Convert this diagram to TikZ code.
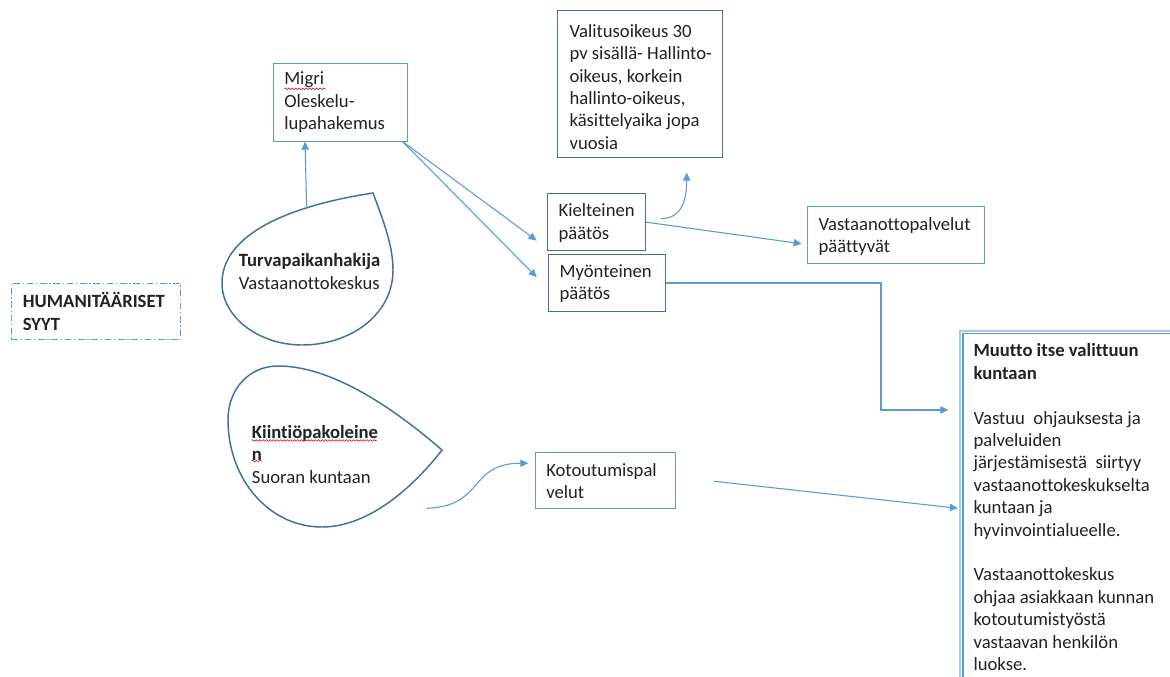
\documentclass[tikz,border=0pt]{standalone}
\usepackage{fontspec}
\setmainfont[Ligatures=NoCommon]{Carlito}
\usetikzlibrary{arrows.meta,calc,decorations.pathmorphing}
\definecolor{lb}{HTML}{5B9BD5}
\definecolor{db}{HTML}{41719C}
\definecolor{vb}{HTML}{A9C8EA}
\definecolor{tc}{HTML}{222222}
\begin{document}
\begin{tikzpicture}[x=0.75pt,y=-0.75pt,
  box/.style={draw=#1, line width=0.75pt, anchor=north west, inner sep=0pt},
  txt/.style={align=left, inner sep=0pt, text=tc, font=\fontsize{14}{16.8}\selectfont},
  arr/.style={draw=lb, line width=0.8pt, -{Triangle[length=6pt,width=5.5pt]}},
  drop/.style={draw=db, line width=1.1pt},
  squig/.style={draw=red!80!black, line width=0.4pt, decorate, decoration={snake, amplitude=0.6pt, segment length=2.6pt}}]
\useasboundingbox (0,0) rectangle (1170,676);
\clip (0,0) rectangle (1170,676);
\fill[white] (0,0) rectangle (1170,676);

% boxes
\node[box=lb, minimum width=100.5pt, minimum height=58.5pt] (migri) at (272.7,62.7) {};
\node[txt, anchor=west] (migritxt) at ($(migri.west)+(11.3,0)$) {Migri\\Oleskelu-\\lupahakemus};

\node[box=db, minimum width=123.75pt, minimum height=110pt] (valitus) at (556.7,10) {};
\node[txt, anchor=west] (valitustxt) at ($(valitus.west)+(12.6,3)$) {Valitusoikeus 30\\pv sisällä- Hallinto-\\oikeus, korkein\\hallinto-oikeus,\\käsittelyaika jopa\\vuosia};

\node[box=db, minimum width=73.7pt, minimum height=42.5pt] (kiel) at (546.7,193.3) {};
\node[txt, anchor=west] (kieltxt) at ($(kiel.west)+(11.6,0.8)$) {Kielteinen\\päätös};

\node[box=db, minimum width=87.5pt, minimum height=42.3pt] (myon) at (548.3,254.3) {};
\node[txt, anchor=west] (myontxt) at ($(myon.west)+(11,0.8)$) {Myönteinen\\päätös};

\node[box=lb, minimum width=132.5pt, minimum height=42.5pt] (vpalv) at (807.3,206) {};
\node[txt, anchor=west] (vpalvtxt) at ($(vpalv.west)+(11,1.7)$) {Vastaanottopalvelut\\päättyvät};

\node[box=lb, dash pattern=on 5pt off 2pt on 1pt off 2pt, minimum width=127pt, minimum height=42.5pt] (human) at (10.7,282.7) {};
\node[txt, anchor=west, font=\fontsize{14}{16.8}\selectfont\bfseries] (humantxt) at ($(human.west)+(12,0)$) {HUMANITÄÄRISET\\SYYT};

\node[box=lb, minimum width=105pt, minimum height=42.5pt] (koto) at (535,451.7) {};
\node[txt, anchor=west] (kototxt) at ($(koto.west)+(11,0.5)$) {Kotoutumispal\\velut};

\node[box=vb, line width=1.2pt, minimum width=173pt, minimum height=277.5pt] (muutto) at (959.3,330) {};
\draw[lb, line width=1.1pt] ($(muutto.north west)+(3.7,3.7)$) rectangle ($(muutto.south east)+(-3.7,-3.7)$);
\node[txt, anchor=north west] (muuttotxt) at ($(muutto.north west)+(14,13.5)$) {\textbf{Muutto itse valittuun}\\\textbf{kuntaan}\\[16.8pt]Vastuu\ \ ohjauksesta ja\\palveluiden\\järjestämisestä\ \ siirtyy\\vastaanottokeskukselta\\kuntaan ja\\hyvinvointialueelle.\\[16.8pt]Vastaanottokeskus\\ohjaa asiakkaan kunnan\\kotoutumistyöstä\\vastaavan henkilön\\luokse.};

% teardrops
\draw[drop] (373,193) .. controls (383,220) and (393,245) .. (393,270)
  .. controls (393,315) and (350,345) .. (302,345)
  .. controls (260,345) and (222,318) .. (222,283)
  .. controls (222,240) and (275,208) .. (373,193) -- cycle;
\node[txt, anchor=west] (turva) at (238.5,271.5) {\textbf{Turvapaikanhakija}\\Vastaanottokeskus};

\draw[drop] (442,450) .. controls (415,485) and (370,527) .. (322,527)
  .. controls (268,527) and (228,478) .. (228,420)
  .. controls (228,388) and (250,366) .. (278,366)
  .. controls (330,366) and (390,405) .. (442,450) -- cycle;
\node[txt, anchor=west] (kiinti) at (251.7,454.3) {\textbf{Kiintiöpakoleine}\\\textbf{n}\\Suoran kuntaan};

% spelling squiggles
\draw[squig] (284.3,88.8) -- (326,88.8);
\draw[squig] (251.7,440.5) -- (376.7,440.5);
\draw[squig] (251.7,461) -- (262,461);

% connectors
\coordinate (td1top) at (306.7,208.3);
\draw[arr] (td1top) -- ($(migri.south west)+(32.3,0)$);

\coordinate (mse) at ($(migri.south east)+(-5,0)$);
\draw[arr] (mse) -- ($(kiel.west)+(-10,18.4)$);
\draw[arr] (mse) -- ($(myon.west)+(-11.6,-5.8)$);

\draw[arr] (kiel.east) -- ($(vpalv.west)+(-5.6,8.95)$);

\coordinate (ka) at ($(kiel.east)+(15,-3.5)$);
\coordinate (kb) at ($(valitus.south)+(47,15)$);
\draw[arr] (ka) .. controls +(18,0) and +(0,32) .. (kb);

\coordinate (bend) at (881,410);
\draw[arr] (myon.east) -| (bend) -- ($(muutto.west |- bend)+(-11,0)$);

\coordinate (td2r) at (426.7,508.3);
\draw[arr] (td2r) .. controls +(58,-2) and +(-60,0) .. ($(koto.west)+(-6.7,-17.3)$);

\coordinate (ks) at ($(koto.east)+(38,0.7)$);
\draw[arr] (ks) -- ($(muutto.west |- ks)+(-1.5,27)$);
\end{tikzpicture}
\end{document}
